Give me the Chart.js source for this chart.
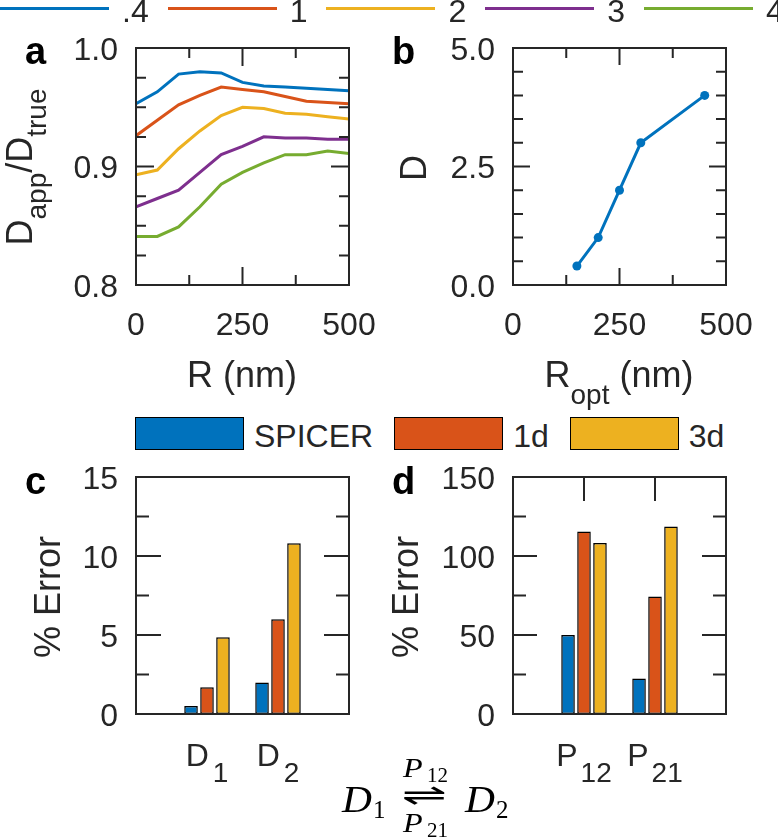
<!DOCTYPE html>
<html>
<head>
<meta charset="utf-8">
<title>Apparent diffusion and percent error panels</title>
<script src="https://cdn.jsdelivr.net/npm/chart.js@4.4.1/dist/chart.umd.min.js"></script>
<style>
  html, body { margin: 0; padding: 0; background: #fff; }
  #fig { position: relative; width: 778px; height: 838px; overflow: hidden;
         font-family: "Liberation Sans", Arial, sans-serif; color: #262626; }
  #fig canvas { position: absolute; }
  .t { position: absolute; white-space: nowrap; font-size: 36px; line-height: 36px; z-index: 2; }
  .rot { position: absolute; white-space: nowrap; font-size: 36px; line-height: 36px; z-index: 2;
         transform: translate(-50%, -50%) rotate(-90deg); }
  .sub { position: relative; font-size: 28px; }
  .letter { position: absolute; font-weight: bold; font-size: 38px; line-height: 38px; color: #000; z-index: 2; }
  #topLegend { position: absolute; left: 0; top: -5px; display: flex; align-items: flex-start; z-index: 2; }
  #topLegend .item { display: flex; align-items: flex-start; margin-right: 19px; }
  #topLegend .ln { width: 109px; height: 3px; margin-top: 12px; margin-right: 13px; }
  #topLegend span { font-size: 32px; line-height: 32px; }
  #barLegend { position: absolute; left: 135px; top: 417px; display: flex; align-items: center; z-index: 2; }
  #barLegend .item { display: flex; align-items: center; margin-right: 21px; }
  #barLegend .sw { width: 107px; height: 31px; border: 1.5px solid #000; margin-right: 10px; }
  #barLegend span { font-size: 32px; line-height: 32px; position: relative; top: 2px; }
  .eq { position: absolute; font-family: "Liberation Serif", "Times New Roman", serif; color: #000; line-height: 1; white-space: nowrap; z-index: 2; }
  .eq i { font-style: italic; }
</style>
</head>
<body>
<div id="fig">
  <div id="topLegend"></div>
  <div id="barLegend"></div>

  <div class="letter" style="left:25px; top:32px">a</div>
  <div class="letter" style="left:392px; top:32px">b</div>
  <div class="letter" style="left:25px; top:462px">c</div>
  <div class="letter" style="left:392px; top:462px">d</div>

  <div class="rot" style="left:21px; top:167px">D<span class="sub" style="top:14px">app</span>/D<span class="sub" style="top:14px">true</span></div>
  <div class="rot" style="left:414px; top:168px">D</div>
  <div class="rot" style="left:48px; top:597px">% Error</div>
  <div class="rot" style="left:406px; top:597px">% Error</div>

  <div class="t" style="left:242px; top:357px; transform:translateX(-50%)">R (nm)</div>
  <div class="t" style="left:619px; top:357px; transform:translateX(-50%)">R<span class="sub" style="top:17px">opt</span> (nm)</div>

  <div class="eq" style="left:342px; top:781px; font-size:37px; transform-origin:0 0; transform:scaleX(1.12)"><i>D</i></div>
  <div class="eq" style="left:373px; top:797px; font-size:25px">1</div>
  <div class="eq" style="left:403px; top:754px; font-size:28px; transform-origin:0 0; transform:scaleX(1.15)"><i>P</i></div>
  <div class="eq" style="left:427px; top:765px; font-size:21px">12</div>
  <div class="eq" style="left:402px; top:780px; font-size:30px; font-family:'DejaVu Sans', sans-serif; transform-origin:0 50%; transform:scaleX(1.8)">&#x21CC;</div>
  <div class="eq" style="left:403px; top:809px; font-size:28px; transform-origin:0 0; transform:scaleX(1.15)"><i>P</i></div>
  <div class="eq" style="left:427px; top:820px; font-size:21px">21</div>
  <div class="eq" style="left:465px; top:781px; font-size:37px; transform-origin:0 0; transform:scaleX(1.12)"><i>D</i></div>
  <div class="eq" style="left:496px; top:797px; font-size:25px">2</div>
</div>

<script>
// panel a: D_app/D_true vs R, one line per true D
const rValues = [0, 50, 100, 150, 200, 250, 300, 350, 400, 450, 500];
const dLabels = [".4", "1", "2", "3", "4"];
const ratioD04 = [0.953, 0.963, 0.978, 0.980, 0.979, 0.971, 0.968, 0.967, 0.966, 0.965, 0.964];
const ratioD1  = [0.926, 0.939, 0.952, 0.960, 0.967, 0.965, 0.963, 0.959, 0.955, 0.954, 0.953];
const ratioD2  = [0.893, 0.897, 0.915, 0.930, 0.943, 0.950, 0.949, 0.945, 0.944, 0.942, 0.940];
const ratioD3  = [0.866, 0.873, 0.880, 0.895, 0.910, 0.917, 0.925, 0.924, 0.924, 0.923, 0.923];
const ratioD4  = [0.841, 0.841, 0.849, 0.866, 0.885, 0.895, 0.903, 0.910, 0.910, 0.913, 0.911];

// panel b: D vs optimal R
const rOpt = [150, 200, 250, 300, 450];
const dTrue = [0.4, 1, 2, 3, 4];

// panels c, d: % error per method
const methods = ["SPICER", "1d", "3d"];
const diffTicks = [["D", "1"], ["D", "2"]];
const diffErrSpicer = [0.5, 2.0];
const diffErr1d = [1.7, 6.0];
const diffErr3d = [4.85, 10.8];
const rateTicks = [["P", "12"], ["P", "21"]];
const rateErrSpicer = [50, 22.5];
const rateErr1d = [115.5, 74.3];
const rateErr3d = [108.3, 118.6];

const ink = "#262626";
const family = '"Liberation Sans", Arial, sans-serif';
const lineColors = ["#0072BD", "#D95319", "#EDB120", "#7E2F8E", "#77AC30"];
const barColors = ["#0072BD", "#D95319", "#EDB120"];

Chart.defaults.font.family = family;
Chart.defaults.color = ink;

const fig = document.getElementById("fig");

// legends
const topLegend = document.getElementById("topLegend");
dLabels.forEach((lab, i) => {
  const it = document.createElement("div");
  it.className = "item";
  it.innerHTML = `<div class="ln" style="background:${lineColors[i]}"></div><span>${lab}</span>`;
  topLegend.appendChild(it);
});
const barLegend = document.getElementById("barLegend");
methods.forEach((m, i) => {
  const it = document.createElement("div");
  it.className = "item";
  it.innerHTML = `<div class="sw" style="background:${barColors[i]}"></div><span>${m}</span>`;
  barLegend.appendChild(it);
});

// box + inward ticks on all four sides
const boxTicks = {
  id: "boxTicks",
  afterDatasetsDraw(chart, args, o) {
    const { ctx, chartArea: a, scales: { x, y } } = chart;
    ctx.save();
    ctx.strokeStyle = ink;
    ctx.lineWidth = 2;
    ctx.beginPath();
    const ny = Math.round((y.max - y.min) / o.yMinor);
    for (let i = 0; i <= ny; i++) {
      const v = y.min + i * o.yMinor;
      const q = v / o.yMajor;
      const len = Math.abs(q - Math.round(q)) < 1e-6 ? o.majorLen : o.minorLen;
      const py = y.getPixelForValue(v);
      ctx.moveTo(a.left, py); ctx.lineTo(a.left + len, py);
      ctx.moveTo(a.right, py); ctx.lineTo(a.right - len, py);
    }
    if (o.xMinor) {
      const nx = Math.round((x.max - x.min) / o.xMinor);
      for (let i = 0; i <= nx; i++) {
        const v = x.min + i * o.xMinor;
        const q = v / o.xMajor;
        const len = Math.abs(q - Math.round(q)) < 1e-6 ? o.majorLen : o.minorLen;
        const px = x.getPixelForValue(v);
        ctx.moveTo(px, a.bottom); ctx.lineTo(px, a.bottom - len);
        ctx.moveTo(px, a.top); ctx.lineTo(px, a.top + len);
      }
    }
    if (o.topCats) {
      for (let i = 1; i <= o.topCats; i++) {
        const px = x.getPixelForValue(i);
        ctx.moveTo(px, a.top); ctx.lineTo(px, a.top + o.majorLen);
      }
    }
    ctx.stroke();
    ctx.strokeRect(a.left, a.top, a.right - a.left, a.bottom - a.top);
    ctx.restore();
  }
};

// category labels with subscripts (D1, P12 ...)
const subLabels = {
  id: "subLabels",
  afterDraw(chart, args, o) {
    if (!o.items) return;
    const { ctx, chartArea: a, scales: { x } } = chart;
    ctx.save();
    ctx.fillStyle = ink;
    ctx.textBaseline = "alphabetic";
    ctx.textAlign = "left";
    o.items.forEach(([base, sub], i) => {
      const px = x.getPixelForValue(i + 1);
      ctx.font = `32px ${family}`;
      const w1 = ctx.measureText(base).width;
      ctx.font = `28px ${family}`;
      const w2 = ctx.measureText(sub).width;
      const x0 = px - (w1 + o.gap + w2) / 2;
      ctx.font = `32px ${family}`;
      ctx.fillText(base, x0, a.bottom + 52);
      ctx.font = `28px ${family}`;
      ctx.fillText(sub, x0 + w1 + o.gap, a.bottom + 68);
    });
    ctx.restore();
  }
};

function makeCanvas(box) {
  const c = document.createElement("canvas");
  c.width = box.w;
  c.height = box.h;
  c.style.left = box.x + "px";
  c.style.top = box.y + "px";
  c.style.width = box.w + "px";
  c.style.height = box.h + "px";
  fig.appendChild(c);
  return c;
}

function frame(box, plot) {
  return {
    padding: { left: 0, bottom: 0, top: plot.t - box.y, right: box.x + box.w - plot.r },
    yWidth: plot.l - box.x,
    xHeight: box.y + box.h - plot.b
  };
}

// stop tick labels from pushing the plot area around
function noPad(s) {
  s.paddingLeft = 0;
  s.paddingRight = 0;
  s.paddingTop = 0;
  s.paddingBottom = 0;
}

function yAxis(f, min, max, step, fmt) {
  return {
    min, max,
    grid: { display: false, drawTicks: false },
    border: { display: false },
    ticks: { stepSize: step, callback: fmt, font: { size: 32 }, color: ink, padding: 18, labelOffset: 3 },
    afterFit(s) { s.width = f.yWidth; noPad(s); }
  };
}

function xLinear(f, min, max, step) {
  return {
    type: "linear", min, max,
    grid: { display: false, drawTicks: false },
    border: { display: false },
    ticks: { stepSize: step, font: { size: 32 }, color: ink, padding: 22, maxRotation: 0, autoSkip: false },
    afterFit(s) { s.height = f.xHeight; noPad(s); }
  };
}

function xCats(f, n) {
  const labels = [""];
  for (let i = 0; i < n; i++) labels.push("c" + i);
  labels.push("");
  return {
    labels,
    axis: {
      type: "category", offset: false,
      grid: { display: false, drawTicks: false },
      border: { display: false },
      ticks: { display: false },
      afterFit(s) { s.height = f.xHeight; noPad(s); }
    }
  };
}

const pad = arr => [null, ...arr, null];

const baseOpts = {
  responsive: false,
  animation: false,
  devicePixelRatio: 1
};

// panel a
const boxA = { x: 0, y: 20, w: 389, h: 350 };
const fA = frame(boxA, { l: 136, t: 48, r: 349, b: 285 });
const seriesA = [ratioD04, ratioD1, ratioD2, ratioD3, ratioD4];
new Chart(makeCanvas(boxA), {
  type: "line",
  data: {
    datasets: seriesA.map((s, i) => ({
      label: dLabels[i],
      data: rValues.map((r, j) => ({ x: r, y: s[j] })),
      borderColor: lineColors[i],
      borderWidth: 3,
      pointRadius: 0,
      tension: 0,
      fill: false
    }))
  },
  options: {
    ...baseOpts,
    layout: { padding: fA.padding },
    plugins: {
      legend: { display: false },
      tooltip: { enabled: false },
      boxTicks: { yMajor: 0.1, yMinor: 0.025, xMajor: 250, xMinor: 125, majorLen: 18, minorLen: 10 }
    },
    scales: {
      x: xLinear(fA, 0, 500, 250),
      y: yAxis(fA, 0.8, 1.0, 0.1, v => v.toFixed(1))
    }
  },
  plugins: [boxTicks]
});

// panel b
const boxB = { x: 389, y: 20, w: 389, h: 350 };
const fB = frame(boxB, { l: 513, t: 48, r: 726, b: 285 });
new Chart(makeCanvas(boxB), {
  type: "line",
  data: {
    datasets: [{
      label: "D",
      data: rOpt.map((r, i) => ({ x: r, y: dTrue[i] })),
      borderColor: lineColors[0],
      backgroundColor: lineColors[0],
      borderWidth: 3,
      pointRadius: 4.5,
      pointBorderWidth: 0,
      tension: 0,
      fill: false
    }]
  },
  options: {
    ...baseOpts,
    layout: { padding: fB.padding },
    plugins: {
      legend: { display: false },
      tooltip: { enabled: false },
      boxTicks: { yMajor: 2.5, yMinor: 0.5, xMajor: 250, xMinor: 125, majorLen: 17, minorLen: 10 }
    },
    scales: {
      x: xLinear(fB, 0, 500, 250),
      y: yAxis(fB, 0, 5, 2.5, v => v.toFixed(1))
    }
  },
  plugins: [boxTicks]
});

function barSets(groups) {
  return groups.map((vals, i) => ({
    label: methods[i],
    data: pad(vals),
    backgroundColor: barColors[i],
    borderColor: "#000",
    borderWidth: 1.5,
    borderSkipped: false,
    categoryPercentage: 0.675,
    barPercentage: 0.85
  }));
}

// panel c
const boxC = { x: 0, y: 455, w: 389, h: 383 };
const fC = frame(boxC, { l: 136, t: 477, r: 349, b: 714 });
const catC = xCats(fC, diffTicks.length);
new Chart(makeCanvas(boxC), {
  type: "bar",
  data: { labels: catC.labels, datasets: barSets([diffErrSpicer, diffErr1d, diffErr3d]) },
  options: {
    ...baseOpts,
    layout: { padding: fC.padding },
    plugins: {
      legend: { display: false },
      tooltip: { enabled: false },
      boxTicks: { yMajor: 5, yMinor: 2.5, majorLen: 25, minorLen: 13 },
      subLabels: { items: diffTicks, gap: 4 }
    },
    scales: {
      x: catC.axis,
      y: yAxis(fC, 0, 15, 5, v => String(v))
    }
  },
  plugins: [boxTicks, subLabels]
});

// panel d
const boxD = { x: 389, y: 455, w: 389, h: 383 };
const fD = frame(boxD, { l: 513, t: 477, r: 726, b: 714 });
const catD = xCats(fD, rateTicks.length);
new Chart(makeCanvas(boxD), {
  type: "bar",
  data: { labels: catD.labels, datasets: barSets([rateErrSpicer, rateErr1d, rateErr3d]) },
  options: {
    ...baseOpts,
    layout: { padding: fD.padding },
    plugins: {
      legend: { display: false },
      tooltip: { enabled: false },
      boxTicks: { yMajor: 50, yMinor: 25, majorLen: 24, minorLen: 13, topCats: rateTicks.length },
      subLabels: { items: rateTicks, gap: 3 }
    },
    scales: {
      x: catD.axis,
      y: yAxis(fD, 0, 150, 50, v => String(v))
    }
  },
  plugins: [boxTicks, subLabels]
});
</script>
</body>
</html>
